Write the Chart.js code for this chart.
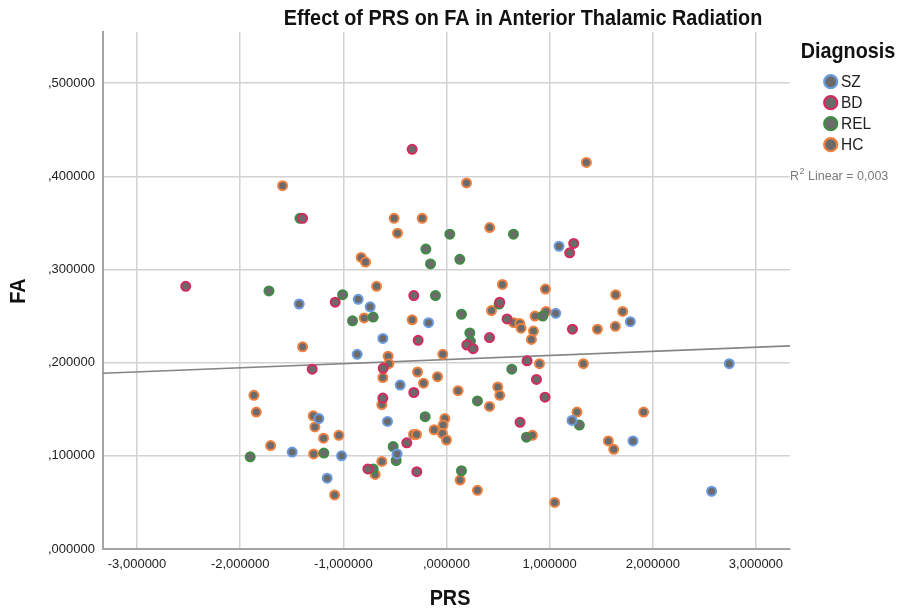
<!DOCTYPE html>
<html>
<head>
<meta charset="utf-8">
<script src="https://cdn.jsdelivr.net/npm/chart.js@4.4.1/dist/chart.umd.min.js"></script>
<style>
  html, body { margin: 0; padding: 0; background: #ffffff; }
  #wrap { width: 900px; height: 612px; }
</style>
</head>
<body>
<div id="wrap"><canvas id="c" width="900" height="612"></canvas></div>
<script>
// ---- Data ----
const szX = [-1.428, 1.091, -0.856, -0.740, -0.174, 1.059, -0.617, -0.866, 1.782, 2.741, -1.237, -1.496, -1.017, -1.157, -0.449, -0.572, -0.479, 1.217, 1.808, 2.570];
const szY = [0.263, 0.325, 0.268, 0.260, 0.243, 0.253, 0.226, 0.209, 0.244, 0.199, 0.140, 0.104, 0.100, 0.076, 0.176, 0.137, 0.102, 0.138, 0.116, 0.062];

const bdX = [-0.333, -2.528, -1.395, -1.079, -1.302, 1.233, 1.194, -0.317, 0.516, 0.587, 1.221, -0.275, 0.197, 0.258, 0.417, -0.614, 0.781, 0.872, -0.317, -0.617, 0.955, 0.713, -0.385, -0.762, -0.288];
const bdY = [0.429, 0.282, 0.355, 0.265, 0.193, 0.328, 0.318, 0.272, 0.265, 0.247, 0.236, 0.224, 0.219, 0.215, 0.227, 0.194, 0.202, 0.182, 0.168, 0.162, 0.163, 0.136, 0.114, 0.086, 0.083];

const relX = [-1.421, 0.032, 0.649, -0.200, -0.155, 0.129, -1.721, -1.007, -0.107, -0.911, -0.711, 0.145, 0.510, 0.933, 0.226, 0.232, 0.633, 0.300, -0.207, 0.775, 1.288, -0.517, -0.488, -0.711, -1.903, -1.189, 0.145];
const relY = [0.355, 0.338, 0.338, 0.322, 0.306, 0.311, 0.277, 0.273, 0.272, 0.245, 0.249, 0.252, 0.263, 0.250, 0.232, 0.223, 0.193, 0.159, 0.142, 0.120, 0.133, 0.110, 0.095, 0.086, 0.099, 0.103, 0.084];

const hcX = [-1.589, 0.194, 1.356, -0.508, -0.236, -0.475, 0.419, -0.827, -0.785, 0.542, 0.959, -0.678, -0.798, -0.333, 0.436, 0.652, 0.710, 0.723, 0.858, 0.965, 0.843, 0.823, 1.640, 1.708, 1.463, 1.637, -1.395, -0.566, -0.559, -0.036, 0.901, 1.327, -0.617, -0.281, -0.087, -0.223, -0.627, 0.112, 0.497, 0.516, 0.417, 1.265, 1.911, 0.833, 1.569, 1.621, -0.320, -0.291, -0.120, -0.016, -0.033, -0.039, 0.000, -0.627, -0.692, 0.132, 0.300, 1.049, -1.867, -1.844, -1.292, -1.276, -1.192, -1.043, -1.705, -1.288, -1.085];
const hcY = [0.390, 0.393, 0.415, 0.355, 0.355, 0.339, 0.345, 0.313, 0.308, 0.284, 0.279, 0.282, 0.248, 0.246, 0.256, 0.243, 0.242, 0.237, 0.250, 0.255, 0.234, 0.225, 0.273, 0.255, 0.236, 0.239, 0.217, 0.207, 0.199, 0.209, 0.199, 0.199, 0.184, 0.190, 0.185, 0.178, 0.155, 0.170, 0.174, 0.165, 0.153, 0.147, 0.147, 0.122, 0.116, 0.107, 0.123, 0.123, 0.128, 0.140, 0.133, 0.124, 0.117, 0.094, 0.080, 0.074, 0.063, 0.050, 0.165, 0.147, 0.143, 0.131, 0.119, 0.122, 0.111, 0.102, 0.058];

// Linear fit line (total sample)
const fitX = [-3.33, 3.33];
const fitY = [0.1887, 0.2181];

// Tick values
const xTicks = [-3, -2, -1, 0, 1, 2, 3];
const yTicks = [0, 0.1, 0.2, 0.3, 0.4, 0.5];

const groupNames = ['SZ', 'BD', 'REL', 'HC'];
const groupColors = ['#6a9be0', '#d42a5c', '#3f8c45', '#ee8040'];
const chartTitle = 'Effect of PRS on FA in Anterior Thalamic Radiation';
const xTitle = 'PRS';
const yTitle = 'FA';
const legendTitle = 'Diagnosis';
const fitLabel = ['R', '2', ' Linear = 0,003'];

// ---- helpers ----
const pts = (xs, ys) => xs.map((x, i) => ({ x: x, y: ys[i] }));
const fmt = v => {
  let s = Math.abs(v).toFixed(6).replace('.', ',');
  if (s.startsWith('0,')) s = s.slice(1);
  return (v < -1e-9 ? '-' : '') + s;
};
const FONT = "'Liberation Sans', Arial, sans-serif";
const fill = '#6b6b6b';

function mkSet(name, xs, ys, col) {
  return {
    type: 'scatter', label: name, data: pts(xs, ys),
    backgroundColor: fill, borderColor: col, borderWidth: 2,
    pointRadius: 4.5, pointHoverRadius: 4.5
  };
}

function txt(ctx, s, x, y, font, color, align, sx, rot) {
  ctx.save();
  ctx.translate(x, y);
  if (rot) ctx.rotate(rot);
  ctx.scale(sx || 1, 1);
  ctx.font = font;
  ctx.fillStyle = color;
  ctx.textAlign = align || 'center';
  ctx.textBaseline = 'middle';
  ctx.fillText(s, 0, 0);
  ctx.restore();
}

const decor = {
  id: 'decor',
  afterDraw(chart) {
    const ctx = chart.ctx;
    const bold = 'bold 22px ' + FONT;
    txt(ctx, chartTitle, 523, 19, bold, '#111', 'center', 0.9);
    txt(ctx, xTitle, 450, 599, bold, '#111', 'center', 0.9);
    txt(ctx, yTitle, 19, 291, bold, '#111', 'center', 0.9, -Math.PI / 2);
    // legend
    txt(ctx, legendTitle, 848, 52, bold, '#111', 'center', 0.9);
    const ly = [81.7, 102.7, 123.7, 144.7];
    groupNames.forEach((n, i) => {
      ctx.save();
      ctx.beginPath();
      ctx.arc(830.7, ly[i], 6.5, 0, Math.PI * 2);
      ctx.fillStyle = fill; ctx.fill();
      ctx.lineWidth = 2.2; ctx.strokeStyle = groupColors[i]; ctx.stroke();
      ctx.restore();
      txt(ctx, n, 841, ly[i] + 1, '16px ' + FONT, '#222', 'left', 0.97);
    });
    // R^2 label
    ctx.save();
    ctx.fillStyle = '#7a7a7a';
    ctx.textBaseline = 'middle';
    ctx.textAlign = 'left';
    ctx.font = '12.5px ' + FONT;
    let x0 = 790;
    ctx.fillText(fitLabel[0], x0, 177);
    x0 += ctx.measureText(fitLabel[0]).width;
    ctx.font = '9px ' + FONT;
    ctx.fillText(fitLabel[1], x0 + 0.5, 172);
    x0 += ctx.measureText(fitLabel[1]).width + 0.5;
    ctx.font = '12.5px ' + FONT;
    ctx.fillText(fitLabel[2], x0, 177);
    ctx.restore();
  }
};

new Chart(document.getElementById('c'), {
  type: 'scatter',
  data: {
    datasets: [
      mkSet(groupNames[0], szX, szY, groupColors[0]),
      mkSet(groupNames[1], bdX, bdY, groupColors[1]),
      mkSet(groupNames[2], relX, relY, groupColors[2]),
      mkSet(groupNames[3], hcX, hcY, groupColors[3]),
      {
        type: 'line', label: 'fit', data: pts(fitX, fitY),
        borderColor: '#858585', borderWidth: 1.6, pointRadius: 0, fill: false
      }
    ]
  },
  options: {
    responsive: false,
    animation: false,
    devicePixelRatio: 1,
    layout: { padding: { top: 32, right: 110, bottom: 0, left: 0 } },
    plugins: { legend: { display: false }, tooltip: { enabled: false }, title: { display: false } },
    scales: {
      x: {
        type: 'linear', position: 'bottom', min: -3.33, max: 3.33,
        ticks: { callback: v => fmt(v), font: { family: FONT, size: 13 }, color: '#222', padding: 8, maxRotation: 0, autoSkip: false },
        grid: { color: '#d2d2d2', lineWidth: 1.5, drawTicks: false },
        border: { color: '#a3a3a3', width: 2 },
        afterBuildTicks: s => { s.ticks = xTicks.map(v => ({ value: v })); },
        afterFit: s => { s.height = 63; }
      },
      y: {
        type: 'linear', position: 'left', min: 0, max: 0.555,
        ticks: { callback: v => fmt(v), font: { family: FONT, size: 13 }, color: '#222', padding: 8, autoSkip: false },
        grid: { color: '#d2d2d2', lineWidth: 1.5, drawTicks: false },
        border: { color: '#a3a3a3', width: 2 },
        afterBuildTicks: s => { s.ticks = yTicks.map(v => ({ value: v })); },
        afterFit: s => { s.width = 103; }
      }
    }
  },
  plugins: [decor]
});
</script>
</body>
</html>
